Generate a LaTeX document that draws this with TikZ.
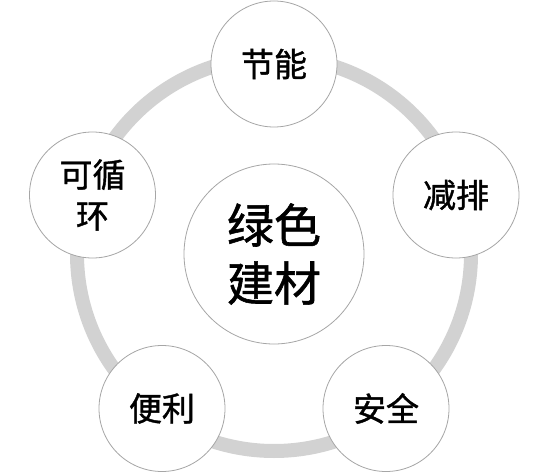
\documentclass[tikz,border=0pt]{standalone}
\usepackage{fontspec}
\newfontfamily\cjk[FakeBold=1.2]{Noto Sans CJK SC}
\definecolor{ringgray}{HTML}{D2D2D2}
\definecolor{edgegray}{HTML}{A6A6A6}
\begin{document}
\begin{tikzpicture}[x=1pt,y=-1pt,
  sat/.style={circle,draw=edgegray,line width=0.8pt,fill=white,minimum size=126pt,inner sep=0pt,
    font=\cjk\fontsize{33}{40}\selectfont,align=center,text=black},
  hub/.style={circle,draw=edgegray,line width=0.8pt,fill=white,minimum size=180pt,inner sep=0pt,
    font=\cjk\fontsize{47}{58}\selectfont,align=center,text=black}]
\useasboundingbox (0,0) rectangle (554,473);
\coordinate (c) at (274,254);
\draw[ringgray,line width=14pt] (c) circle[radius=197];
\node[hub] (center) at (c) {绿色\\建材};
\node[sat] (jieneng) at (274,64) {节能};
\node[sat] (jianpai) at (456,195) {减排};
\node[sat] (anquan) at (386,408.5) {安全};
\node[sat] (bianli) at (162,408.5) {便利};
\node[sat,font=\cjk\fontsize{33}{41}\selectfont] (xunhuan) at (92.5,195) {可循\\环};
\end{tikzpicture}
\end{document}
